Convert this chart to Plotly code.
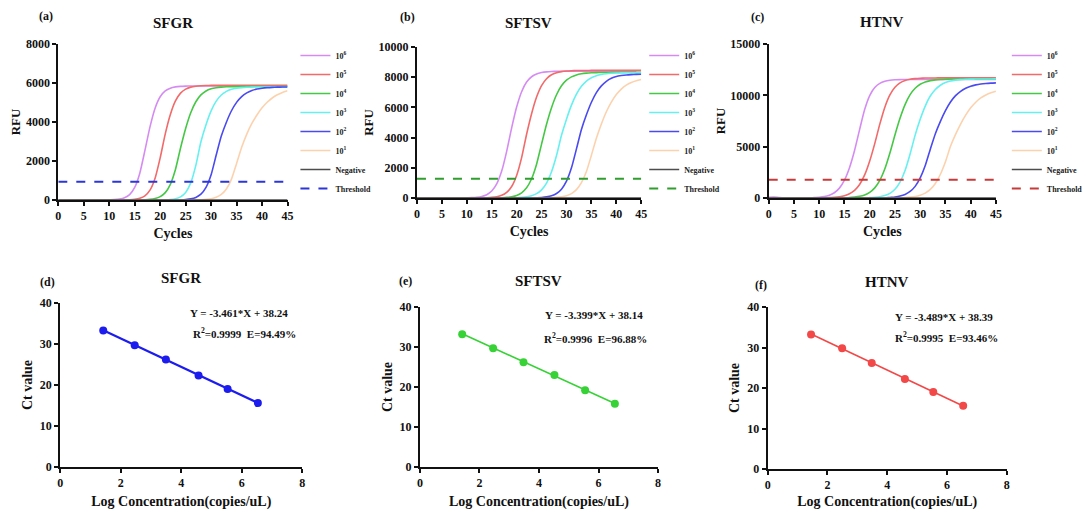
import plotly.graph_objects as go

# ---------------- data ----------------
cycles = list(range(46))
curve_labels = ["10<sup>6</sup>", "10<sup>5</sup>", "10<sup>4</sup>", "10<sup>3</sup>", "10<sup>2</sup>", "10<sup>1</sup>"]

# SFGR amplification curves (RFU per cycle 0..45)
sfgr_e6 = [0,0,0,0,0,0,0,0,0,0, 8,19,47,115,277,643,1375,2533,3750,4710,5295,5593,5736,5800,5828,5841,
           5846,5848,5849,5850,5850,5850,5850,5850,5850,5850,5850,5850,5850,5850,5850,5850,5850,5850,5850,5850]
sfgr_e5 = [0,0,0,0,0,0,0,0,0,0,0,0,0, 6,15,36,89,215,507,1117,2158,3393,4386,5080,5480,5686,5789,5837,5860,5871,
           5876,5878,5880,5880,5880,5880,5880,5880,5880,5880,5880,5880,5880,5880,5880,5880]
sfgr_e4 = [0,0,0,0,0,0,0,0,0,0,0,0,0,0,0,0, 6,14,33,76,171,378,803,1565,2667,3667,4475,5040,5389,5593,5701,5758,5788,5804,5811,
           5815,5817,5819,5820,5820,5820,5820,5820,5820,5820,5820]
sfgr_e3 = [0,0,0,0,0,0,0,0,0,0,0,0,0,0,0,0,0,0,0,0,0, 11,27,67,162,387,876,1775,2991,3863,4572,5070,5383,5570,5674,5732,5763,5780,5790,
           5794,5797,5799,5800,5800,5800,5800]
sfgr_e2 = [0,0,0,0,0,0,0,0,0,0,0,0,0,0,0,0,0,0,0,0,0,0,0,0, 11,26,59,133,297,644,1292,2304,3279,3990,4577,5005,5302,5493,5615,5690,5734,5761,5777,5786,5792,5795]
sfgr_e1 = [0,0,0,0,0,0,0,0,0,0,0,0,0,0,0,0,0,0,0,0,0,0,0,0,0,0,0, 7,15,32,67,140,286,568,1073,1873,2700,3380,3927,4362,4727,5011,5232,5394,5514,5603]
sfgr_neg = [0]*46
sfgr_threshold = 930

# SFTSV amplification curves
sftsv_e6 = [0,0,0,0,0,0,0,0,0,0, 10,23,49,104,219,460,932,1781,3091,4645,6023,7039,7678,8030,8215,8308,8355,8377,8389,
            8394,8397,8399,8400,8400,8400,8400,8400,8400,8400,8400,8400,8400,8400,8400,8400]
sftsv_e5 = [0,0,0,0,0,0,0,0,0,0,0,0,0, 8,18,39,83,177,372,764,1496,2674,4225,5585,6684,7444,7901,8163,8298,8371,8409,8429,8439,
            8444,8447,8449,8450,8450,8450,8450,8450,8450,8450,8450,8450,8450]
sftsv_e4 = [0,0,0,0,0,0,0,0,0,0,0,0,0,0,0,0, 10,21,42,86,171,345,674,1273,2237,3569,4884,5982,6839,7430,7800,8021,8152,8226,8268,8291,8303,8310,
            8314,8317,8319,8320,8320,8320,8320,8320]
sftsv_e3 = [0,0,0,0,0,0,0,0,0,0,0,0,0,0,0,0,0,0,0,0, 21,40,77,149,286,540,989,1735,2814,4150,5221,6150,6881,7395,7744,7960,8096,8179,8229,8257,8275,8285,8291,8295,8298,8300]
sftsv_e2 = [0,0,0,0,0,0,0,0,0,0,0,0,0,0,0,0,0,0,0,0,0,0,0,0, 18,36,74,148,297,586,1114,1997,3251,4538,5511,6344,6980,7425,7730,7928,8051,8110,8150,8170,8185,8195]
sftsv_e1 = [0,0,0,0,0,0,0,0,0,0,0,0,0,0,0,0,0,0,0,0,0,0,0,0,0,0,0, 21,41,80,154,293,553,1012,1752,2835,3950,4900,5713,6351,6849,7216,7476,7651,7770,7850]
sftsv_neg = [0]*46
sftsv_threshold = 1280

# HTNV amplification curves
htnv_e6 = [60,90,40,0,0,0,0,0,0, 37,72,140,270,513,961,1744,2957,4632,6664,8616,9979,10765,11169,11371,11466,11511,11532,
           11541,11546,11548,11550,11550,11550,11550,11550,11550,11550,11550,11550,11550,11550,11550,11550,11550,11550,11550]
htnv_e5 = [0,0,0,0,0,0,0,0,0,0,0,0, 35,64,121,223,412,744,1322,2246,3604,5300,7196,8845,10039,10787,11209,11443,11568,11631,11665,11682,11690,
           11695,11698,11700,11700,11700,11700,11700,11700,11700,11700,11700,11700,11700]
htnv_e4 = [0,0,0,0,0,0,0,0,0,0,0,0,0,0,0,0, 48,88,162,300,550,985,1717,2842,4379,6140,7761,9094,10070,10695,11081,11305,11435,11507,11548,11571,11584,11591,
           11595,11598,11600,11600,11600,11600,11600,11600]
htnv_e3 = [0,0,0,0,0,0,0,0,0,0,0,0,0,0,0,0,0,0,0,0, 33,64,124,238,455,855,1554,2680,4292,6125,7668,8955,9930,10568,10985,11240,11391,11479,11530,11561,11577,11587,11592,11596,11598,11600]
htnv_e2 = [0,0,0,0,0,0,0,0,0,0,0,0,0,0,0,0,0,0,0,0,0,0,0,0, 55,102,190,351,638,1133,1958,3161,4759,6266,7470,8516,9349,9968,10395,10688,10890,11018,11103,11156,11190,11212]
htnv_e1 = [0,0,0,0,0,0,0,0,0,0,0,0,0,0,0,0,0,0,0,0,0,0,0,0,0,0,0, 48,86,152,272,479,835,1412,2311,3531,5035,6195,7201,8068,8785,9330,9748,10037,10251,10393]
htnv_neg = [0]*46
htnv_threshold = 1780

# Standard curves
sfgr_logc = [1.42, 2.46, 3.49, 4.57, 5.53, 6.53]
sfgr_ct = [33.3, 29.7, 26.2, 22.3, 19.0, 15.6]
sfgr_fit = (-3.461, 38.24)
sftsv_logc = [1.42, 2.46, 3.48, 4.52, 5.55, 6.55]
sftsv_ct = [33.2, 29.7, 26.2, 23.0, 19.2, 15.8]
sftsv_fit = (-3.399, 38.14)
htnv_logc = [1.45, 2.49, 3.48, 4.59, 5.54, 6.54]
htnv_ct = [33.2, 29.8, 26.2, 22.2, 19.0, 15.6]
htnv_fit = (-3.489, 38.39)

eq_texts = ["Y = -3.461*X + 38.24", "Y = -3.399*X + 38.14", "Y = -3.489*X + 38.39"]
stat_texts = ["R<sup>2</sup>=0.9999\u00a0\u00a0E=94.49%", "R<sup>2</sup>=0.9996\u00a0\u00a0E=96.88%", "R<sup>2</sup>=0.9995\u00a0\u00a0E=93.46%"]

# ---------------- styling ----------------
W, H = 1088, 510
FONT = "Liberation Serif, Times New Roman, serif"
curve_colors = ["#d58cf2", "#f26a6a", "#45c845", "#66f0f0", "#4a4af0", "#fcd2ae"]
neg_color = "#4d4d4d"


def px_x(p):
    return p / W


def px_y(p):
    return 1 - p / H


def bold(size, color="#111"):
    return dict(size=size, family=FONT, weight="bold", color=color)


fig = go.Figure()

top_panels = [
    dict(name="SFGR", letter="(a)", curves=[sfgr_e6, sfgr_e5, sfgr_e4, sfgr_e3, sfgr_e2, sfgr_e1], neg=sfgr_neg,
         thr=sfgr_threshold, thr_color="#2b35d8", xdom=(59, 291), ydom=(44, 200), ymax=8000, dtick=2000,
         legend_x=299, legend_top=41, title_xy=(175, 23), letter_xy=(47, 16)),
    dict(name="SFTSV", letter="(b)", curves=[sftsv_e6, sftsv_e5, sftsv_e4, sftsv_e3, sftsv_e2, sftsv_e1], neg=sftsv_neg,
         thr=sftsv_threshold, thr_color="#2f9e2f", xdom=(422, 649), ydom=(47, 198), ymax=10000, dtick=2000,
         legend_x=652, legend_top=41, title_xy=(535, 23), letter_xy=(412, 17)),
    dict(name="HTNV", letter="(c)", curves=[htnv_e6, htnv_e5, htnv_e4, htnv_e3, htnv_e2, htnv_e1], neg=htnv_neg,
         thr=htnv_threshold, thr_color="#c83a3a", xdom=(778, 1008), ydom=(44, 198), ymax=15000, dtick=5000,
         legend_x=1019, legend_top=41, title_xy=(893, 22), letter_xy=(767, 17)),
]

annotations = []
layout_axes = {}

for i, p in enumerate(top_panels):
    n = i + 1
    xa = "x" if n == 1 else f"x{n}"
    ya = "y" if n == 1 else f"y{n}"
    lg = "legend" if n == 1 else f"legend{n}"
    for lab, col, ys in zip(curve_labels, curve_colors, p["curves"]):
        fig.add_trace(go.Scatter(x=cycles, y=ys, mode="lines", name=lab,
                                 line=dict(color=col, width=1.6, shape="spline", smoothing=0.6),
                                 xaxis=xa, yaxis=ya, legend=lg))
    fig.add_trace(go.Scatter(x=cycles, y=p["neg"], mode="lines", name="Negative",
                             line=dict(color=neg_color, width=1.6), xaxis=xa, yaxis=ya, legend=lg))
    fig.add_trace(go.Scatter(x=[cycles[0], cycles[-1]], y=[p["thr"], p["thr"]], mode="lines", name="Threshold",
                             line=dict(color=p["thr_color"], width=2, dash="dash"), xaxis=xa, yaxis=ya, legend=lg))
    xkey = "xaxis" if n == 1 else f"xaxis{n}"
    ykey = "yaxis" if n == 1 else f"yaxis{n}"
    layout_axes[xkey] = dict(domain=[px_x(p["xdom"][0]), px_x(p["xdom"][1])], range=[0, 45], dtick=5, anchor=ya,
                             title=dict(text="Cycles", font=bold(14), standoff=6))
    layout_axes[ykey] = dict(domain=[px_y(p["ydom"][1]), px_y(p["ydom"][0])], range=[0, p["ymax"]], dtick=p["dtick"], anchor=xa,
                             tickformat="d", title=dict(text="RFU", font=bold(13), standoff=2))
    layout_axes[lg] = dict(x=px_x(p["legend_x"]), y=px_y(p["legend_top"]), xanchor="left", yanchor="top",
                           font=bold(8, "#222"), bgcolor="rgba(0,0,0,0)", tracegroupgap=0, itemwidth=30)
    annotations.append(dict(text=p["name"], x=px_x(p["title_xy"][0]), y=px_y(p["title_xy"][1]), xref="paper", yref="paper",
                            xanchor="center", yanchor="middle", showarrow=False, font=bold(15)))
    annotations.append(dict(text=p["letter"], x=px_x(p["letter_xy"][0]), y=px_y(p["letter_xy"][1]), xref="paper", yref="paper",
                            xanchor="center", yanchor="middle", showarrow=False, font=bold(12)))

bottom_panels = [
    dict(name="SFGR", letter="(d)", logc=sfgr_logc, ct=sfgr_ct, fit=sfgr_fit, color="#1c1cee", lw=2.2,
         xdom=(61, 306), ydom=(303, 467), title_xy=(183, 278), letter_xy=(48, 282), eq_xy=(242, 313), st_xy=(247, 333)),
    dict(name="SFTSV", letter="(e)", logc=sftsv_logc, ct=sftsv_ct, fit=sftsv_fit, color="#36d236", lw=1.6,
         xdom=(425, 666), ydom=(307, 467), title_xy=(545, 281), letter_xy=(410, 281), eq_xy=(601, 315), st_xy=(603, 338)),
    dict(name="HTNV", letter="(f)", logc=htnv_logc, ct=htnv_ct, fit=htnv_fit, color="#f24848", lw=1.6,
         xdom=(777, 1019), ydom=(307, 469), title_xy=(898, 282), letter_xy=(770, 285), eq_xy=(955, 317), st_xy=(958, 337)),
]

for j, p in enumerate(bottom_panels):
    n = j + 4
    xa, ya = f"x{n}", f"y{n}"
    slope, icpt = p["fit"]
    x0, x1 = min(p["logc"]), max(p["logc"])
    fig.add_trace(go.Scatter(x=[x0, x1], y=[slope * x0 + icpt, slope * x1 + icpt], mode="lines",
                             line=dict(color=p["color"], width=p["lw"]), showlegend=False, xaxis=xa, yaxis=ya))
    fig.add_trace(go.Scatter(x=p["logc"], y=p["ct"], mode="markers", marker=dict(color=p["color"], size=8),
                             showlegend=False, xaxis=xa, yaxis=ya))
    layout_axes[f"xaxis{n}"] = dict(domain=[px_x(p["xdom"][0]), px_x(p["xdom"][1])], range=[0, 8], dtick=2, anchor=ya,
                                    title=dict(text="Log Concentration(copies/uL)", font=bold(14), standoff=11))
    layout_axes[f"yaxis{n}"] = dict(domain=[px_y(p["ydom"][1]), px_y(p["ydom"][0])], range=[0, 40], dtick=10, anchor=xa,
                                    title=dict(text="Ct value", font=bold(14), standoff=4))
    annotations.append(dict(text=p["name"], x=px_x(p["title_xy"][0]), y=px_y(p["title_xy"][1]), xref="paper", yref="paper",
                            xanchor="center", yanchor="middle", showarrow=False, font=bold(15)))
    annotations.append(dict(text=p["letter"], x=px_x(p["letter_xy"][0]), y=px_y(p["letter_xy"][1]), xref="paper", yref="paper",
                            xanchor="center", yanchor="middle", showarrow=False, font=bold(12)))
    annotations.append(dict(text=eq_texts[j], x=px_x(p["eq_xy"][0]), y=px_y(p["eq_xy"][1]), xref="paper", yref="paper",
                            xanchor="center", yanchor="middle", showarrow=False, font=bold(11)))
    annotations.append(dict(text=stat_texts[j], x=px_x(p["st_xy"][0]), y=px_y(p["st_xy"][1]), xref="paper", yref="paper",
                            xanchor="center", yanchor="middle", showarrow=False, font=bold(11)))

common_axis = dict(showline=True, linecolor="#111", linewidth=2, ticks="outside", ticklen=4, tickwidth=1.5,
                   tickcolor="#111", showgrid=False, zeroline=False, automargin=False, fixedrange=True,
                   tickfont=bold(12), separatethousands=False)
for k, v in layout_axes.items():
    if k.startswith("xaxis") or k.startswith("yaxis"):
        merged = dict(common_axis)
        merged.update(v)
        layout_axes[k] = merged

fig.update_layout(width=W, height=H, autosize=False, margin=dict(l=0, r=0, t=0, b=0),
                  paper_bgcolor="white", plot_bgcolor="white", annotations=annotations,
                  font=dict(family=FONT, color="#111"), **layout_axes)

fig.write_html("out.html", config={"displayModeBar": False},
               post_script="document.body.style.margin='0';document.body.style.padding='0';document.body.style.overflow='hidden';")
